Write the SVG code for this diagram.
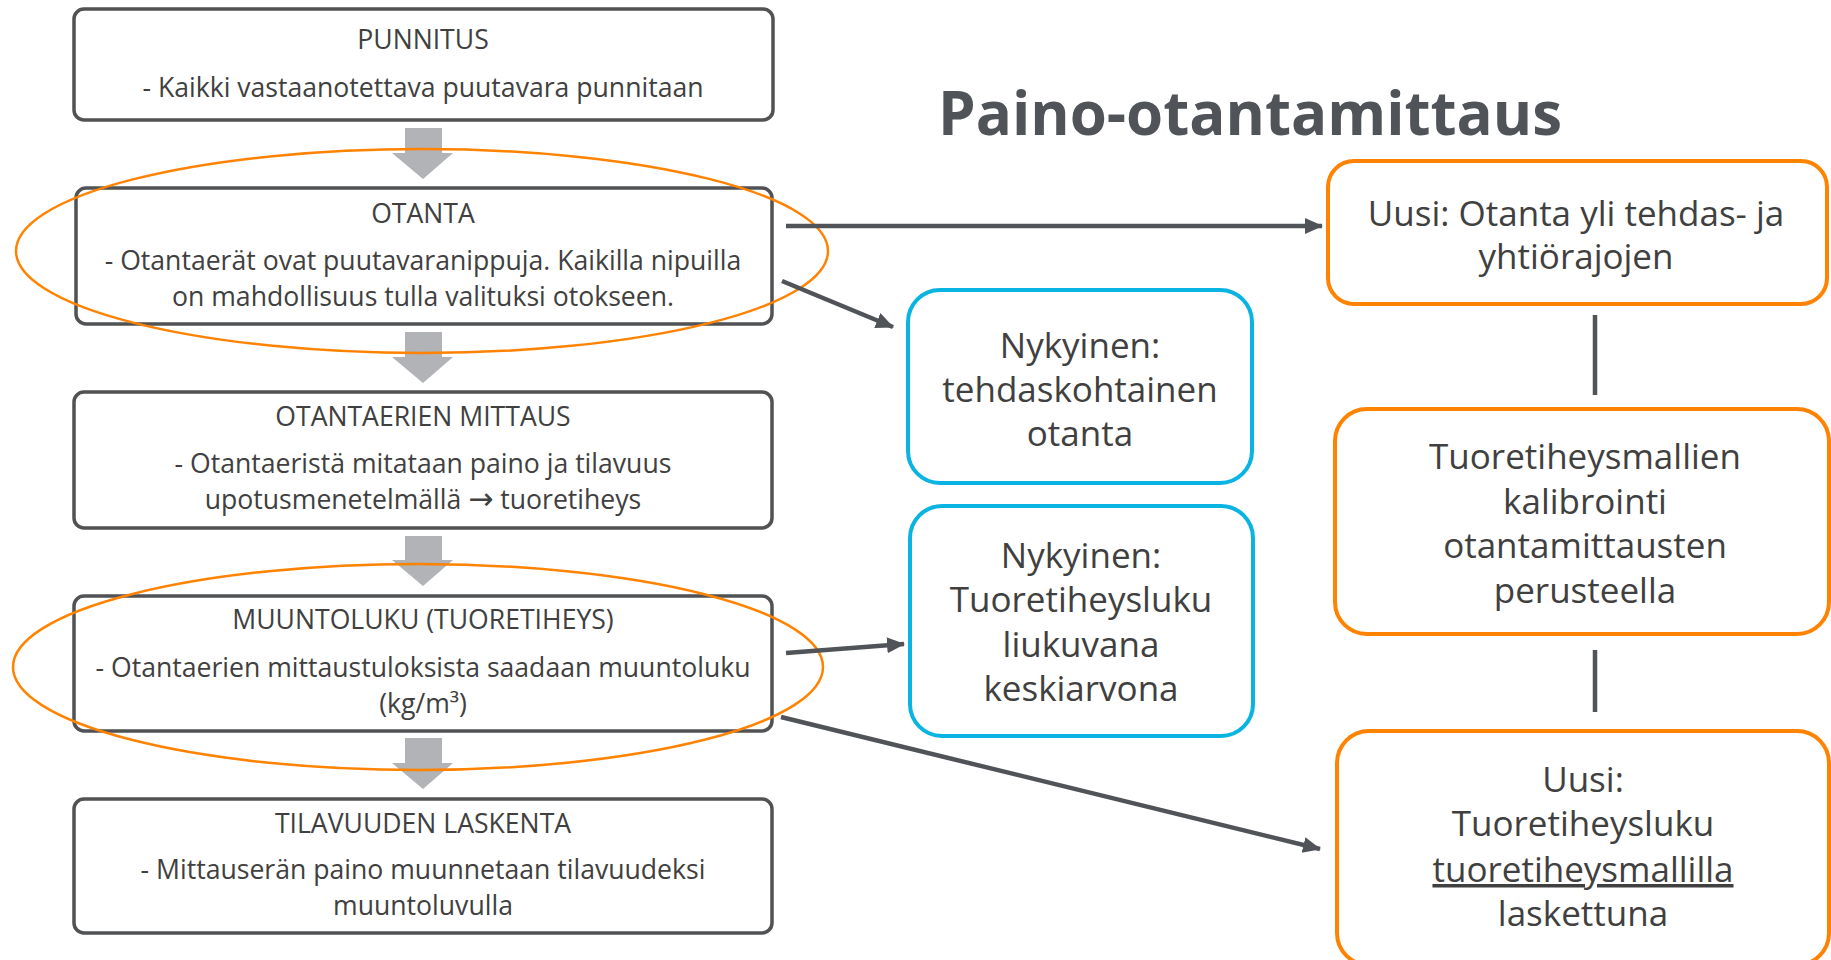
<svg xmlns="http://www.w3.org/2000/svg" width="1831" height="960" viewBox="0 0 1831 960">
<defs>
<style>
.box{fill:#fff;stroke:#505254;stroke-width:3.5}
.obox{fill:#fff;stroke:#ff8200;stroke-width:4}
.bbox{fill:#fff;stroke:#0ab4e2;stroke-width:4}
.ell{fill:none;stroke:#ff8200;stroke-width:2.5}
.garrow{fill:#b1b3b6}
.lt{font-family:"Open Sans","Noto Sans",sans-serif;font-size:26.6px;fill:#404040;text-anchor:middle}
.rt{font-family:"Open Sans","Noto Sans",sans-serif;font-size:35px;fill:#404040;text-anchor:middle}
.title{font-family:"Open Sans","Noto Sans",sans-serif;font-size:60px;font-weight:bold;fill:#505459}
.conn{stroke:#505459;stroke-width:4.5;fill:none}
</style>
<marker id="ah" markerUnits="userSpaceOnUse" markerWidth="18" markerHeight="18" viewBox="0 0 18 18" refX="17" refY="9" orient="auto">
<path d="M0,1 L18,9 L0,17 Z" fill="#505459"/>
</marker>
</defs>
<rect width="1831" height="960" fill="#fff"/>

<g id="flow-arrows">
<path class="garrow" d="M405,128 H442 V153 H453 L423,179 L392,153 H405 Z"/>
<path class="garrow" d="M405,332 H442 V357 H453 L423,383 L392,357 H405 Z"/>
<path class="garrow" d="M405,536 H442 V560 H453 L423,586 L392,560 H405 Z"/>
<path class="garrow" d="M405,738 H442 V763 H453 L423,789 L392,763 H405 Z"/>
</g>

<g id="punnitus">
<rect class="box" x="74" y="9" width="699" height="111" rx="10"/>
<text class="lt" x="423" y="49">PUNNITUS</text>
<text class="lt" x="423" y="97">- Kaikki vastaanotettava puutavara punnitaan</text>
</g>
<g id="otanta">
<rect class="box" x="76" y="188" width="696" height="136" rx="10"/>
<text class="lt" x="423" y="223">OTANTA</text>
<text class="lt" x="423" y="270">- Otantaerät ovat puutavaranippuja. Kaikilla nipuilla</text>
<text class="lt" x="423" y="306">on mahdollisuus tulla valituksi otokseen.</text>
</g>
<g id="mittaus">
<rect class="box" x="74" y="392" width="698" height="136" rx="10"/>
<text class="lt" x="423" y="426">OTANTAERIEN MITTAUS</text>
<text class="lt" x="423" y="473">- Otantaeristä mitataan paino ja tilavuus</text>
<text class="lt" x="423" y="509">upotusmenetelmällä <tspan font-family="DejaVu Sans" font-size="30">→</tspan> tuoretiheys</text>
</g>
<g id="muuntoluku">
<rect class="box" x="74" y="596" width="698" height="135" rx="10"/>
<text class="lt" x="423" y="629">MUUNTOLUKU (TUORETIHEYS)</text>
<text class="lt" x="423" y="677">- Otantaerien mittaustuloksista saadaan muuntoluku</text>
<text class="lt" x="423" y="713">(kg/m³)</text>
</g>
<g id="tilavuus">
<rect class="box" x="74" y="799" width="698" height="134" rx="10"/>
<text class="lt" x="423" y="833">TILAVUUDEN LASKENTA</text>
<text class="lt" x="423" y="879">- Mittauserän paino muunnetaan tilavuudeksi</text>
<text class="lt" x="423" y="915">muuntoluvulla</text>
</g>

<g id="highlights">
<ellipse class="ell" cx="422" cy="251" rx="406" ry="102"/>
<ellipse class="ell" cx="418" cy="667" rx="405" ry="103"/>
</g>

<text class="title" x="938" y="135">Paino-otantamittaus</text>

<g id="nykyinen-otanta">
<rect class="bbox" x="908" y="290" width="344" height="193" rx="32"/>
<text class="rt" x="1080" y="358">Nykyinen:</text>
<text class="rt" x="1080" y="402">tehdaskohtainen</text>
<text class="rt" x="1080" y="446">otanta</text>
</g>
<g id="nykyinen-tuoretiheys">
<rect class="bbox" x="910" y="506" width="343" height="230" rx="32"/>
<text class="rt" x="1081" y="568">Nykyinen:</text>
<text class="rt" x="1081" y="612">Tuoretiheysluku</text>
<text class="rt" x="1081" y="657">liukuvana</text>
<text class="rt" x="1081" y="701">keskiarvona</text>
</g>
<g id="uusi-otanta">
<rect class="obox" x="1328" y="161" width="499" height="143" rx="26"/>
<text class="rt" x="1576" y="226">Uusi: Otanta yli tehdas- ja</text>
<text class="rt" x="1576" y="269">yhtiörajojen</text>
</g>
<g id="kalibrointi">
<rect class="obox" x="1335" y="409" width="494" height="225" rx="32"/>
<text class="rt" x="1585" y="469">Tuoretiheysmallien</text>
<text class="rt" x="1585" y="514">kalibrointi</text>
<text class="rt" x="1585" y="558">otantamittausten</text>
<text class="rt" x="1585" y="603">perusteella</text>
</g>
<g id="uusi-tuoretiheys">
<rect class="obox" x="1337" y="731" width="492" height="234" rx="32"/>
<text class="rt" x="1583" y="792">Uusi:</text>
<text class="rt" x="1583" y="836">Tuoretiheysluku</text>
<text class="rt" x="1583" y="882" text-decoration="underline">tuoretiheysmallilla</text>
<text class="rt" x="1583" y="926">laskettuna</text>
</g>

<g id="connectors">
<line class="conn" x1="786" y1="226" x2="1322" y2="226" marker-end="url(#ah)"/>
<line class="conn" x1="782" y1="281" x2="893" y2="327" marker-end="url(#ah)"/>
<line class="conn" x1="786" y1="653" x2="904" y2="644" marker-end="url(#ah)"/>
<line class="conn" x1="781" y1="717" x2="1320" y2="849" marker-end="url(#ah)"/>
<line class="conn" x1="1595" y1="315" x2="1595" y2="395"/>
<line class="conn" x1="1595" y1="650" x2="1595" y2="712"/>
</g>
</svg>
